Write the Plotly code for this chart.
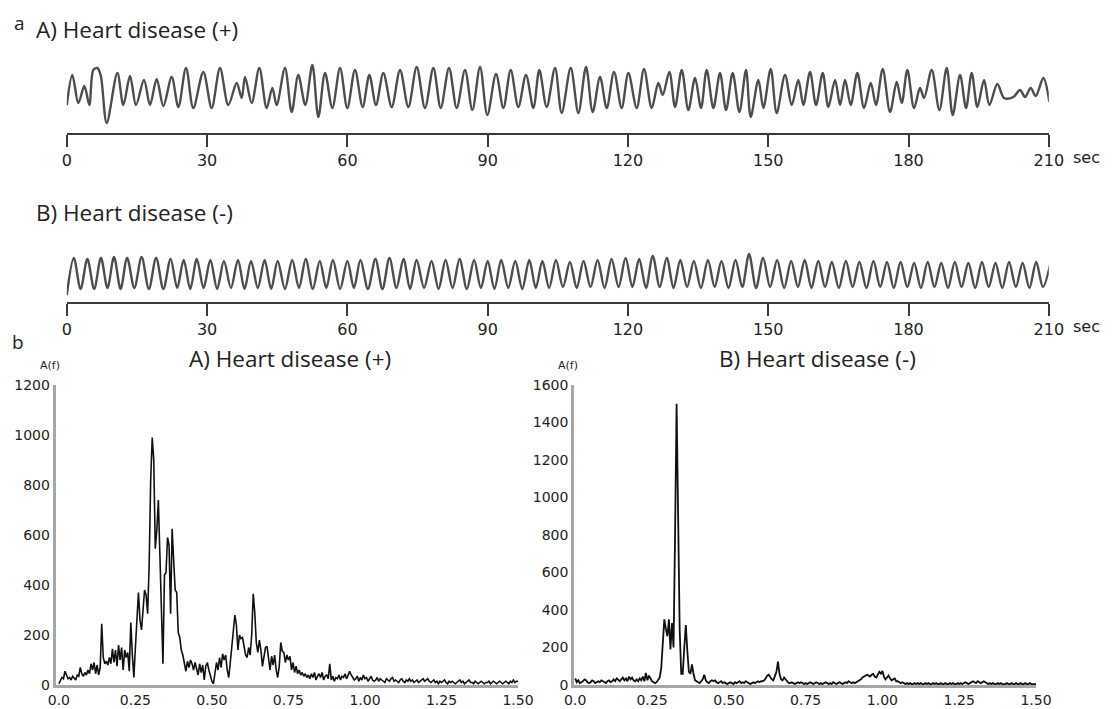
import plotly.graph_objects as go

# ---------------- DATA ----------------
time_ticks = [0, 30, 60, 90, 120, 150, 180, 210]
time_tick_labels = ["0", "30", "60", "90", "120", "150", "180", "210"]

# Waveform A (heart disease +): successive extrema (seconds, relative amplitude)
wave_a_t = [0.0, 1.18, 2.47, 3.75, 4.82, 5.67, 6.53, 7.24, 8.53, 10.81, 12.09, 13.52, 14.80, 16.51,
            17.79, 19.22, 20.64, 22.43, 23.85, 25.49, 27.05, 29.19, 30.98, 32.76, 34.54, 36.33,
            37.40, 38.11, 39.54, 41.17, 42.74, 43.95, 44.88, 46.66, 48.09, 49.51, 51.00, 52.51,
            53.79, 55.22, 56.79, 58.43, 59.99, 61.63, 63.27, 64.70, 66.12, 67.69, 69.48, 71.26,
            73.04, 74.82, 76.60, 78.39, 79.96, 81.74, 83.38, 85.16, 86.73, 88.37, 89.93, 91.79,
            93.36, 94.93, 96.56, 98.20, 99.77, 101.05, 102.62, 104.41, 105.83, 107.76, 109.40,
            111.04, 112.46, 114.03, 115.46, 117.02, 118.66, 120.09, 121.87, 123.44, 125.08,
            126.50, 127.43, 128.86, 130.07, 131.50, 132.92, 134.35, 135.63, 136.84, 138.27,
            139.69, 140.98, 142.40, 143.83, 145.25, 146.25, 147.89, 148.96, 150.53, 151.81,
            153.59, 155.02, 156.44, 157.51, 158.94, 160.22, 161.65, 162.86, 164.29, 165.36,
            166.43, 167.64, 169.06, 170.49, 171.92, 173.05, 174.48, 176.05, 177.47, 178.55,
            179.75, 181.18, 182.46, 183.32, 184.96, 186.60, 188.17, 189.45, 191.02, 192.30,
            193.51, 194.73, 196.15, 197.29, 199.00, 200.43, 202.42, 203.85, 204.92, 206.13,
            207.20, 208.84, 210.12]
wave_a_v = [25, 55, 27, 44, 25, 60, 62, 55, 7, 57, 25, 54, 25, 50,
            25, 51, 24, 53, 23, 62, 22, 58, 22, 62, 25, 47,
            32, 53, 27, 62, 22, 42, 25, 62, 18, 55, 25, 65,
            13, 57, 22, 62, 22, 60, 23, 55, 25, 57, 23, 60,
            23, 63, 22, 62, 22, 62, 22, 60, 20, 63, 15, 56,
            22, 60, 23, 55, 22, 60, 23, 62, 17, 62, 17,
            63, 18, 53, 22, 58, 22, 57, 22, 61, 22,
            47, 35, 58, 23, 60, 20, 52, 22, 60, 22,
            57, 20, 57, 18, 60, 13, 50, 22, 61, 17,
            55, 25, 50, 25, 58, 25, 57, 23, 50, 25,
            50, 25, 57, 22, 47, 25, 61, 18, 48, 27,
            60, 22, 42, 32, 60, 20, 62, 15, 55, 22,
            57, 23, 50, 25, 46, 32, 33, 40, 33, 42,
            34, 52, 28]

# Waveform B (heart disease -): peaks and troughs
wave_b_peak_t = [1.5, 4.4, 7.3, 10.1, 12.9, 16.0, 19.1, 22.2, 25.0, 27.8, 30.7, 33.6, 36.6, 39.4,
                 42.3, 45.1, 48.2, 51.1, 54.1, 56.9, 60.0, 62.8, 66.0, 69.0, 72.0, 74.8, 78.0,
                 81.0, 84.0, 87.1, 90.0, 92.9, 95.9, 98.9, 101.7, 104.6, 107.6, 110.5, 113.5,
                 116.5, 119.5, 122.4, 125.3, 128.3, 131.2, 134.1, 137.1, 140.0, 143.0, 145.9,
                 148.9, 151.9, 154.9, 157.8, 160.7, 163.6, 166.6, 169.5, 172.5, 175.4, 178.3,
                 181.2, 184.1, 187.0, 189.9, 192.8, 195.7, 198.6, 201.5, 204.4, 207.3]
wave_b_peak_v = [44, 43, 44, 45, 44, 45, 44, 43, 42, 43, 42, 41, 42, 41, 42, 41, 42, 43,
                 41, 42, 41, 42, 43, 44, 43, 42, 41, 42, 43, 42, 41, 42, 41, 42, 41, 42,
                 40, 41, 42, 43, 44, 43, 46, 44, 42, 41, 42, 41, 42, 48, 44, 42, 41, 42,
                 41, 40, 41, 40, 41, 40, 40, 39, 40, 39, 40, 39, 40, 39, 40, 39, 40]
wave_b_trough_t = [2.95, 5.85, 8.7, 11.5, 14.45, 17.55, 20.65, 23.6, 26.4, 29.25, 32.15, 35.1,
                   38.0, 40.85, 43.7, 46.65, 49.65, 52.6, 55.5, 58.45, 61.4, 64.4, 67.5, 70.5,
                   73.4, 76.4, 79.5, 82.5, 85.55, 88.55, 91.45, 94.4, 97.4, 100.3, 103.15,
                   106.1, 109.05, 112.0, 115.0, 118.0, 120.95, 123.85, 126.8, 129.75, 132.65,
                   135.6, 138.55, 141.5, 144.45, 147.4, 150.4, 153.4, 156.35, 159.25, 162.15,
                   165.1, 168.05, 171.0, 173.95, 176.85, 179.75, 182.65, 185.55, 188.45, 191.35,
                   194.25, 197.15, 200.05, 202.95, 205.85, 208.75]
wave_b_trough_v = [13, 13, 14, 13, 14, 13, 13, 14, 13, 14, 13, 14, 13, 14, 13, 13, 14, 13,
                   14, 13, 14, 13, 13, 14, 13, 14, 13, 14, 13, 14, 13, 14, 13, 14, 14,
                   15, 14, 15, 14, 15, 15, 14, 15, 14, 15, 14, 15, 14, 15, 14, 15, 14,
                   15, 14, 15, 14, 15, 14, 15, 14, 15, 14, 15, 14, 15, 14, 15, 14, 15, 14, 15]
wave_b_start = (0.0, 7)
wave_b_end = (210.4, 40)

# Spectra (A(f) vs frequency, 0 to 1.5 Hz in 0.005 steps)
freq_step = 0.005
spec_a = [
    5, 15, 30, 25, 55, 40, 25, 30, 20, 35,
    25, 20, 40, 35, 70, 45, 35, 50, 40, 60,
    45, 85, 60, 90, 45, 80, 40, 70, 245, 110,
    85, 95, 80, 110, 85, 145, 90, 140, 75, 160,
    100, 150, 60, 140, 110, 130, 55, 250, 120, 30,
    150, 250, 370, 260, 220, 300, 380, 360, 285, 480,
    820, 990, 900, 545, 620, 740, 500, 320, 85, 440,
    450, 590, 560, 285, 625, 500, 380, 370, 210, 190,
    140, 120, 80, 55, 95, 70, 100, 85, 60, 90,
    65, 40, 85, 50, 80, 20, 75, 90, 60, 30,
    15, 5, 50, 90, 60, 110, 70, 125, 100, 120,
    60, 30, 90, 150, 220, 280, 240, 140, 200, 185,
    190, 150, 120, 110, 150, 120, 200, 365, 290, 170,
    130, 180, 140, 75, 110, 150, 155, 100, 60, 115,
    80, 120, 60, 30, 75, 170, 135, 130, 90, 120,
    100, 115, 60, 90, 50, 75, 45, 60, 40, 50,
    35, 45, 30, 40, 25, 45, 30, 50, 20, 35,
    45, 30, 50, 20, 35, 40, 25, 85, 20, 35,
    15, 30, 25, 40, 20, 35, 30, 45, 25, 40,
    55, 40, 30, 20, 25, 35, 15, 30, 20, 40,
    25, 30, 15, 25, 35, 20, 15, 20, 30, 15,
    25, 20, 15, 10, 25, 20, 15, 25, 30, 15,
    20, 15, 10, 20, 25, 15, 10, 20, 15, 25,
    15, 20, 10, 15, 20, 10, 15, 20, 25, 15,
    20, 25, 15, 10, 15, 20, 10, 15, 5, 15,
    10, 15, 20, 10, 5, 15, 10, 15, 10, 5,
    10, 15, 20, 10, 15, 5, 10, 15, 20, 10,
    10, 5, 15, 10, 5, 10, 15, 10, 5, 10,
    10, 15, 5, 10, 15, 10, 5, 10, 15, 10,
    5, 10, 15, 10, 5, 15, 10, 20, 10, 15,
    15]
spec_b = [
    35, 15, 25, 10, 15, 20, 30, 25, 15, 10,
    15, 25, 20, 10, 15, 20, 15, 25, 20, 15,
    10, 20, 25, 15, 20, 30, 20, 35, 25, 20,
    30, 40, 25, 35, 20, 45, 30, 40, 25, 20,
    30, 20, 35, 25, 45, 20, 65, 25, 50, 30,
    20, 15, 10, 15, 25, 40, 90, 210, 350, 300,
    260, 350, 190, 330, 200, 800, 1500, 900, 300, 60,
    60, 200, 320, 180, 70, 60, 110, 60, 25, 20,
    15, 10, 20, 30, 55, 25, 15, 10, 20, 25,
    20, 25, 15, 10, 15, 20, 10, 15, 10, 5,
    10, 15, 10, 5, 15, 10, 15, 20, 10, 15,
    10, 20, 15, 10, 5, 10, 15, 10, 15, 20,
    15, 20, 20, 25, 35, 50, 55, 40, 30, 25,
    45, 70, 125, 60, 30, 25, 40, 30, 15, 10,
    10, 15, 10, 5, 10, 15, 10, 15, 10, 5,
    10, 5, 10, 15, 10, 5, 10, 15, 10, 5,
    10, 5, 10, 15, 10, 5, 10, 5, 15, 10,
    5, 10, 15, 10, 5, 10, 15, 10, 20, 15,
    10, 15, 10, 15, 20, 25, 30, 40, 45, 50,
    55, 50, 45, 55, 60, 45, 40, 55, 70, 60,
    75, 45, 30, 40, 50, 35, 25, 30, 35, 20,
    20, 15, 10, 15, 10, 5, 10, 5, 10, 5,
    5, 10, 5, 10, 5, 10, 5, 5, 10, 5,
    10, 5, 5, 10, 5, 10, 5, 5, 10, 5,
    5, 10, 5, 5, 10, 5, 10, 5, 5, 10,
    5, 10, 5, 10, 15, 10, 5, 10, 15, 20,
    15, 10, 20, 15, 10, 15, 20, 15, 10, 5,
    10, 5, 10, 5, 5, 10, 5, 10, 5, 5,
    5, 10, 5, 5, 10, 5, 5, 10, 5, 5,
    10, 5, 5, 10, 5, 5, 10, 5, 5, 5,
    5]
freq = [round(i * freq_step, 3) for i in range(len(spec_a))]
freq_ticks = [0, 0.25, 0.5, 0.75, 1.0, 1.25, 1.5]
freq_tick_labels = ["0.0", "0.25", "0.50", "0.75", "1.00", "1.25", "1.50"]
amp_ticks_a = [0, 200, 400, 600, 800, 1000, 1200]
amp_ticks_b = [0, 200, 400, 600, 800, 1000, 1200, 1400, 1600]

# ---------------- BUILD ----------------
# The page body has an 8px default margin, so the figure is placed at (8, 8).
OFF = 8
W, H = 1116 - OFF, 709 - OFF
def px(x):
    return (x - OFF) / W
def py(y):
    return 1 - (y - OFF) / H

# assemble waveform B as alternating extrema
wb_t = [wave_b_start[0]]
wb_v = [wave_b_start[1]]
for i in range(len(wave_b_peak_t)):
    wb_t.append(wave_b_peak_t[i]); wb_v.append(wave_b_peak_v[i])
    if i < len(wave_b_trough_t):
        wb_t.append(wave_b_trough_t[i]); wb_v.append(wave_b_trough_v[i])
wb_t.append(wave_b_end[0]); wb_v.append(wave_b_end[1])

wave_line = dict(color='#4d4d4d', width=2.4, shape='spline', smoothing=0.9)
fig = go.Figure()
fig.add_trace(go.Scatter(x=wave_a_t, y=wave_a_v, mode='lines', line=wave_line,
                         xaxis='x', yaxis='y', showlegend=False, hoverinfo='skip'))
fig.add_trace(go.Scatter(x=wb_t, y=wb_v, mode='lines', line=wave_line,
                         xaxis='x2', yaxis='y2', showlegend=False, hoverinfo='skip'))
fig.add_trace(go.Scatter(x=freq, y=spec_a, mode='lines', line=dict(color='#111', width=1.6),
                         xaxis='x3', yaxis='y3', showlegend=False, hoverinfo='skip'))
fig.add_trace(go.Scatter(x=freq, y=spec_b, mode='lines', line=dict(color='#111', width=1.8),
                         xaxis='x4', yaxis='y4', showlegend=False, hoverinfo='skip'))

time_axis = dict(range=[0, 210], showline=True, linecolor='#3a3a3a', linewidth=1.5,
                 ticks='outside', ticklen=12, tickwidth=2, tickcolor='#3a3a3a',
                 tickvals=time_ticks, ticktext=time_tick_labels,
                 tickfont=dict(family='DejaVu Sans', size=16, color='#222'),
                 showgrid=False, zeroline=False, automargin=False, fixedrange=True)
spec_x = dict(range=[-0.011, 1.5], showline=True, linecolor='#a6a6a6', linewidth=2.5,
              ticks='', tickvals=freq_ticks, ticktext=freq_tick_labels,
              tickfont=dict(family='DejaVu Sans', size=14, color='#222'),
              showgrid=False, zeroline=False, automargin=False)
spec_y = dict(showline=True, linecolor='#a6a6a6', linewidth=2.5, ticks='',
              tickfont=dict(family='DejaVu Sans', size=14, color='#222'),
              showgrid=False, zeroline=False, automargin=False)

layout = dict(
    width=W, height=H, template='none',
    margin=dict(l=0, r=0, t=0, b=0),
    paper_bgcolor='white', plot_bgcolor='rgba(0,0,0,0)',
    xaxis=dict(time_axis, domain=[px(66.8), px(1048.8)], anchor='y'),
    yaxis=dict(domain=[py(133), py(55)], range=[-3, 75], visible=False, anchor='x'),
    xaxis2=dict(time_axis, domain=[px(66.8), px(1048.8)], anchor='y2'),
    yaxis2=dict(domain=[py(302), py(245)], range=[0, 57], visible=False, anchor='x2'),
    xaxis3=dict(spec_x, domain=[px(55.5), px(518)], anchor='y3'),
    yaxis3=dict(spec_y, domain=[py(685), py(385)], range=[0, 1200], tickvals=amp_ticks_a, anchor='x3'),
    xaxis4=dict(spec_x, domain=[px(574), px(1036)], range=[-0.004, 1.5], anchor='y4'),
    yaxis4=dict(spec_y, domain=[py(685), py(385)], range=[0, 1600], tickvals=amp_ticks_b, anchor='x4'),
)
fig.update_layout(**layout)

title_font = dict(family='Open Sans', size=22.5, color='#222')
letter_font = dict(family='Open Sans', size=19, color='#222')
small_font = dict(family='DejaVu Sans', size=11, color='#222')
sec_font = dict(family='DejaVu Sans', size=16, color='#222')
ann = [
    dict(text='a', x=px(12), y=py(8.5), xanchor='left', yanchor='top', font=letter_font),
    dict(text='A) Heart disease (+)', x=px(34), y=py(30), xanchor='left', yanchor='middle', font=title_font),
    dict(text='B) Heart disease (-)', x=px(34), y=py(212), xanchor='left', yanchor='middle', font=title_font),
    dict(text='b', x=px(10), y=py(342), xanchor='left', yanchor='middle', font=letter_font),
    dict(text='A) Heart disease (+)', x=px(290), y=py(359), xanchor='center', yanchor='middle', font=title_font),
    dict(text='B) Heart disease (-)', x=px(817), y=py(359), xanchor='center', yanchor='middle', font=title_font),
    dict(text='A(f)', x=px(50), y=py(365), xanchor='center', yanchor='middle', font=small_font),
    dict(text='A(f)', x=px(568), y=py(365), xanchor='center', yanchor='middle', font=small_font),
    dict(text='sec', x=px(1071), y=py(158), xanchor='left', yanchor='middle', font=sec_font),
    dict(text='sec', x=px(1071), y=py(326), xanchor='left', yanchor='middle', font=sec_font),
]
for a in ann:
    a.update(xref='paper', yref='paper', showarrow=False)
fig.update_layout(annotations=ann)

fig.write_html("out.html")
